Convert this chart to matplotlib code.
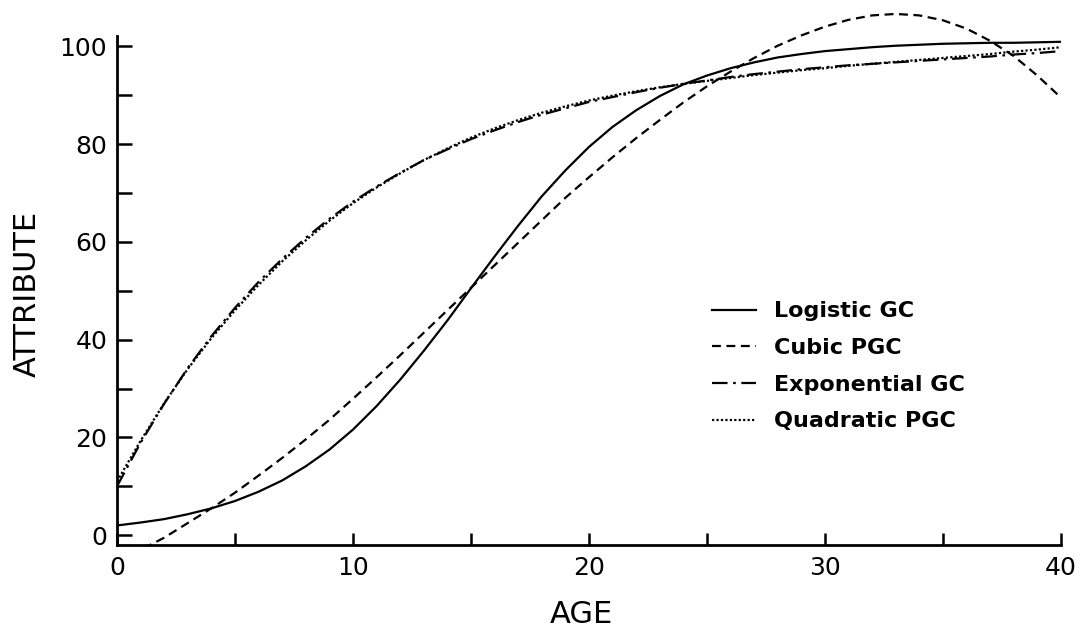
import matplotlib
matplotlib.use('Agg')
import matplotlib.pyplot as plt
import numpy as np

# ages 0..40
age = np.arange(0, 41)

logistic_gc = [2.0, 2.6, 3.3, 4.3, 5.5, 7.0, 8.9, 11.2, 14.1, 17.5,
               21.6, 26.4, 31.8, 37.7, 43.9, 50.5, 57.0, 63.3, 69.3, 74.6,
               79.4, 83.5, 86.9, 89.8, 92.2, 94.0, 95.5, 96.7, 97.7, 98.4,
               99.0, 99.4, 99.8, 100.1, 100.3, 100.5, 100.6, 100.7, 100.7, 100.8,
               100.9]

cubic_pgc = [-5.0, -3.0, -0.5, 2.5, 5.5, 8.7, 12.2, 15.8, 19.6, 23.6,
             27.9, 32.3, 36.8, 41.4, 46.0, 50.6, 55.2, 59.8, 64.4, 69.0,
             73.2, 77.3, 81.2, 84.9, 88.5, 91.8, 94.8, 97.6, 100.1, 102.2,
             104.0, 105.4, 106.3, 106.6, 106.3, 105.3, 103.6, 101.1, 98.0, 94.0,
             89.5]

exponential_gc = [10.0, 18.9, 26.9, 34.2, 40.7, 46.5, 51.8, 56.5, 60.8, 64.7,
                  68.2, 71.3, 74.1, 76.7, 78.9, 81.0, 82.8, 84.5, 86.0, 87.3,
                  88.6, 89.6, 90.6, 91.5, 92.3, 93.0, 93.7, 94.3, 94.8, 95.3,
                  95.7, 96.1, 96.4, 96.7, 97.0, 97.3, 97.6, 97.9, 98.3, 98.6,
                  99.0]

quadratic_pgc = [11.0, 19.3, 27.0, 34.0, 40.3, 46.0, 51.2, 56.0, 60.3, 64.3,
                 67.9, 71.1, 74.0, 76.7, 79.1, 81.3, 83.2, 84.9, 86.4, 87.7,
                 88.9, 89.9, 90.8, 91.6, 92.3, 92.9, 93.5, 94.1, 94.6, 95.1,
                 95.5, 96.0, 96.4, 96.8, 97.2, 97.6, 98.0, 98.4, 98.9, 99.3,
                 99.8]

labels = ['Logistic GC', 'Cubic PGC', 'Exponential GC', 'Quadratic PGC']
xticks = [0, 10, 20, 30, 40]
yticks = [0, 20, 40, 60, 80, 100]

plt.rcParams['font.family'] = ['DejaVu Sans']

fig = plt.figure(figsize=(10.85, 6.29), dpi=100)
ax = fig.add_axes([0.1078, 0.1335, 0.870, 0.863])

lw = 1.6
ax.plot(age, logistic_gc, color='black', lw=lw, ls='-', label=labels[0])
ax.plot(age, cubic_pgc, color='black', lw=lw, ls=(0, (4, 2.5)), label=labels[1])
ax.plot(age, exponential_gc, color='black', lw=lw, ls=(0, (7, 2.5, 1.2, 2.5)), label=labels[2])
ax.plot(age, quadratic_pgc, color='black', lw=lw, ls=(0, (1, 1)), label=labels[3])

ax.set_xlim(0, 40)
ax.set_ylim(-2, 109)

ax.spines['top'].set_visible(False)
ax.spines['right'].set_visible(False)
ax.spines['left'].set_bounds(-2, 102)
ax.spines['left'].set_linewidth(2)
ax.spines['bottom'].set_linewidth(2)

ax.set_xticks(xticks)
ax.set_xticks([5, 15, 25, 35], minor=True)
ax.set_yticks(yticks)
ax.set_yticks([10, 30, 50, 70, 90], minor=True)
ax.tick_params(axis='both', which='both', direction='in', width=1.8, colors='black')
ax.tick_params(axis='x', which='both', length=9, pad=8, labelsize=18)
ax.tick_params(axis='y', which='both', length=11, pad=7, labelsize=18)

ax.set_xlabel('AGE', fontsize=22)
ax.set_ylabel('ATTRIBUTE', fontsize=22)
ax.xaxis.set_label_coords(0.4915, -0.101)
ax.yaxis.set_label_coords(-0.0795, 0.462)

leg = ax.legend(loc='upper left', bbox_to_anchor=(0.630, 0.449), frameon=False,
                borderaxespad=0, borderpad=0, handlelength=2.0, handletextpad=0.8,
                labelspacing=0.75, prop={'size': 16, 'weight': 'bold'})

fig.savefig('out.png', dpi=100)
